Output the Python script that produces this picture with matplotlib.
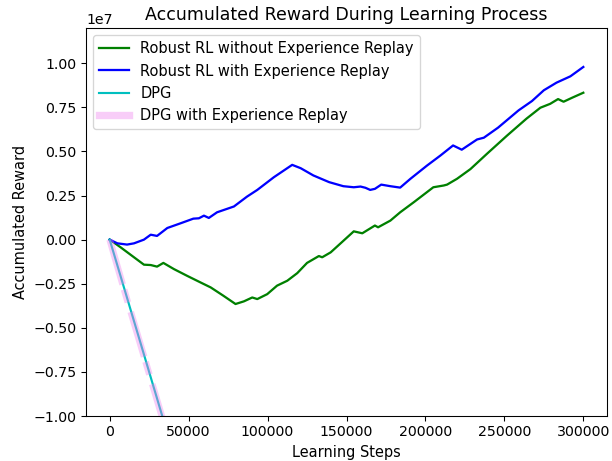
import matplotlib
matplotlib.use("Agg")
import matplotlib.pyplot as plt
from matplotlib.lines import Line2D

# Robust RL without Experience Replay (green)
green_x = [0, 7000, 15400, 21700, 26000, 30000, 34000, 40700, 49000, 57600, 64000, 72000,
           79700, 85000, 90300, 93500, 99800, 106000, 112500, 118800, 125000, 132500, 134600,
           140000, 147000, 154600, 160000, 168000, 170000, 177800, 184000, 192600, 205000,
           211600, 213700, 220000, 228500, 239000, 251700, 264000, 272800, 279000, 284000,
           287500, 293000, 300000]
green_y = [0, -0.044e7, -0.10e7, -0.142e7, -0.144e7, -0.153e7, -0.132e7, -0.167e7, -0.205e7,
           -0.243e7, -0.271e7, -0.318e7, -0.365e7, -0.35e7, -0.328e7, -0.337e7, -0.309e7,
           -0.261e7, -0.233e7, -0.19e7, -0.132e7, -0.093e7, -0.10e7, -0.072e7, -0.015e7,
           0.047e7, 0.036e7, 0.08e7, 0.07e7, 0.108e7, 0.155e7, 0.212e7, 0.297e7, 0.307e7,
           0.312e7, 0.345e7, 0.40e7, 0.487e7, 0.59e7, 0.686e7, 0.748e7, 0.77e7, 0.797e7,
           0.782e7, 0.805e7, 0.833e7]

# Robust RL with Experience Replay (blue)
blue_x = [0, 4900, 11000, 15400, 21700, 26000, 30000, 36500, 45000, 53000, 56500, 59700,
          62800, 68000, 78700, 87000, 93500, 104000, 115600, 121000, 129000, 139000, 148000,
          154600, 158900, 162000, 165000, 168000, 172000, 177800, 184000, 190500, 201000,
          209500, 217500, 223000, 232700, 237000, 246000, 259000, 267500, 275000, 283000,
          291800, 300000]
blue_y = [0, -0.021e7, -0.028e7, -0.021e7, 0.0, 0.028e7, 0.021e7, 0.066e7, 0.093e7, 0.119e7,
          0.121e7, 0.136e7, 0.123e7, 0.155e7, 0.188e7, 0.244e7, 0.282e7, 0.354e7, 0.424e7,
          0.405e7, 0.364e7, 0.326e7, 0.303e7, 0.297e7, 0.301e7, 0.294e7, 0.282e7, 0.288e7,
          0.312e7, 0.303e7, 0.295e7, 0.345e7, 0.42e7, 0.477e7, 0.534e7, 0.51e7, 0.568e7,
          0.578e7, 0.635e7, 0.733e7, 0.786e7, 0.847e7, 0.89e7, 0.926e7, 0.979e7]

# DPG (cyan)
dpg_x = [0, 10000, 20000, 33300, 50000]
dpg_y = [0, -0.30e7, -0.60e7, -1.0e7, -1.5e7]

# DPG with Experience Replay (pink)
dpger_x = [0, 10000, 20000, 33000, 50000]
dpger_y = [0, -0.31e7, -0.61e7, -1.0e7, -1.52e7]

labels = ["Robust RL without Experience Replay", "Robust RL with Experience Replay",
          "DPG", "DPG with Experience Replay"]

fig = plt.figure(figsize=(612 / 96, 461 / 96), dpi=96)
ax = fig.add_axes([86 / 612, 1 - 416 / 461, (607 - 86) / 612, (416 - 28) / 461])

ax.plot(green_x, green_y, color="g", lw=1.7)
ax.plot(blue_x, blue_y, color="b", lw=1.7)
ax.plot(dpg_x, dpg_y, color="c", lw=1.6)
ax.plot(dpger_x, dpger_y, color="violet", alpha=0.4, lw=5, ls=(0, (7, 0.8, 2, 1.5)))

ax.set_xlim(-15000, 315000)
ax.set_ylim(-1.0e7, 1.2e7)
ax.set_yticks([-1.0e7, -0.75e7, -0.5e7, -0.25e7, 0, 0.25e7, 0.5e7, 0.75e7, 1.0e7])
ax.set_xticks([0, 50000, 100000, 150000, 200000, 250000, 300000])
ax.tick_params(labelsize=10.6)
ax.yaxis.get_offset_text().set_fontsize(10.6)

handles = [Line2D([], [], color="g", lw=1.7), Line2D([], [], color="b", lw=1.7),
           Line2D([], [], color="c", lw=1.6), Line2D([], [], color="violet", alpha=0.4, lw=5.5)]
ax.legend(handles, labels, loc="upper left", fontsize=11)

ax.set_title("Accumulated Reward During Learning Process", fontsize=13)
ax.set_xlabel("Learning Steps", fontsize=10.9)
ax.set_ylabel("Accumulated Reward", fontsize=10.9)

fig.savefig("out.png", dpi=96)
